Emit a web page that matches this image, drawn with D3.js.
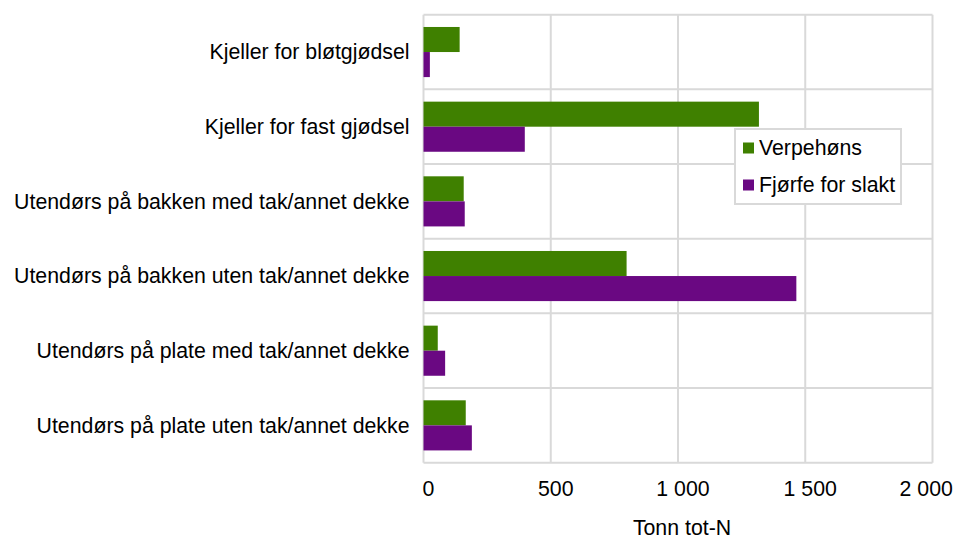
<!DOCTYPE html>
<html>
<head>
<meta charset="utf-8">
<script src="https://cdn.jsdelivr.net/npm/d3@7"></script>
<style>
  html, body { margin: 0; padding: 0; background: #ffffff; }
  svg { display: block; font-family: "Liberation Sans", Arial, sans-serif; }
</style>
</head>
<body>
<svg id="chart" width="964" height="540"></svg>
<script>
// Nitrogen (tonn tot-N) by manure storage type, two poultry groups
const categories = [
  "Kjeller for bløtgjødsel",
  "Kjeller for fast gjødsel",
  "Utendørs på bakken med tak/annet dekke",
  "Utendørs på bakken uten tak/annet dekke",
  "Utendørs på plate med tak/annet dekke",
  "Utendørs på plate uten tak/annet dekke"
];
const seriesNames = ["Verpehøns", "Fjørfe for slakt"];
const verpehons = [142, 1318, 158, 798, 56, 166];
const fjorfeForSlakt = [25, 398, 162, 1465, 85, 190];
const xTicks = [0, 500, 1000, 1500, 2000];
const xTickLabels = ["0", "500", "1 000", "1 500", "2 000"];
const axisTitle = "Tonn tot-N";
const colors = ["#3f8000", "#6a0882"];

const seriesValues = [verpehons, fjorfeForSlakt];
const rows = categories.map((c, i) => ({
  category: c,
  values: seriesNames.map((s, j) => ({ series: s, value: seriesValues[j][i], color: colors[j] }))
}));

const svg = d3.select("#chart");
const plot = { left: 423.5, right: 932.5, top: 14.7, bottom: 462.7 };
const gridColor = "#d9d9d9";
const fontSize = 21.3;

const x = d3.scaleLinear().domain([0, 2000]).range([plot.left, plot.right]);
const y = d3.scaleBand().domain(categories).range([plot.top, plot.bottom]).paddingInner(0).paddingOuter(0);
const ySub = d3.scaleBand().domain(seriesNames).range([0, y.bandwidth()]).paddingInner(0).paddingOuter(0.49);

// vertical gridlines
svg.append("g").selectAll("line").data(xTicks).join("line")
  .attr("x1", d => x(d)).attr("x2", d => x(d))
  .attr("y1", plot.top).attr("y2", plot.bottom)
  .attr("stroke", gridColor).attr("stroke-width", 2);

// horizontal category separators
const sepYs = categories.map(c => y(c)).concat([plot.bottom]);
svg.append("g").selectAll("line").data(sepYs).join("line")
  .attr("x1", plot.left).attr("x2", plot.right)
  .attr("y1", d => d).attr("y2", d => d)
  .attr("stroke", gridColor).attr("stroke-width", 2);

// bars
const groups = svg.append("g").selectAll("g").data(rows).join("g")
  .attr("transform", d => `translate(0,${y(d.category)})`);
groups.selectAll("rect").data(d => d.values).join("rect")
  .attr("x", x(0))
  .attr("y", d => ySub(d.series))
  .attr("width", d => x(d.value) - x(0))
  .attr("height", ySub.bandwidth())
  .attr("fill", d => d.color);

// category labels
svg.append("g").selectAll("text").data(categories).join("text")
  .attr("x", plot.left - 14)
  .attr("y", d => y(d) + y.bandwidth() / 2)
  .attr("dy", "0.35em")
  .attr("text-anchor", "end")
  .attr("font-size", fontSize)
  .attr("fill", "#000")
  .text(d => d);

// x tick labels
const tickG = svg.append("g");
tickG.selectAll("text").data(xTicks).join("text")
  .attr("x", d => x(d) + 5)
  .attr("y", 496)
  .attr("text-anchor", "middle")
  .attr("font-size", fontSize)
  .attr("fill", "#000")
  .text((d, i) => xTickLabels[i]);
// keep the last label inside the canvas edge
tickG.selectAll("text").each(function () {
  const b = this.getBBox();
  if (b.x + b.width > 953) d3.select(this).attr("x", +d3.select(this).attr("x") - (b.x + b.width - 953));
});

// axis title
svg.append("text")
  .attr("x", (plot.left + plot.right) / 2 + 4)
  .attr("y", 535)
  .attr("text-anchor", "middle")
  .attr("font-size", fontSize)
  .attr("fill", "#000")
  .text(axisTitle);

// legend
const legend = svg.append("g").attr("transform", "translate(735,129)");
legend.append("rect")
  .attr("width", 166).attr("height", 75)
  .attr("fill", "#ffffff").attr("stroke", gridColor).attr("stroke-width", 2);
const items = legend.selectAll("g.item").data(seriesNames).join("g")
  .attr("class", "item")
  .attr("transform", (d, i) => `translate(0,${19 + i * 37})`);
items.append("rect")
  .attr("x", 8).attr("y", -5.5).attr("width", 11).attr("height", 11)
  .attr("fill", (d, i) => colors[i]);
items.append("text")
  .attr("x", 24).attr("y", 0).attr("dy", "0.35em")
  .attr("font-size", fontSize)
  .attr("fill", "#000")
  .text(d => d);
</script>
</body>
</html>
